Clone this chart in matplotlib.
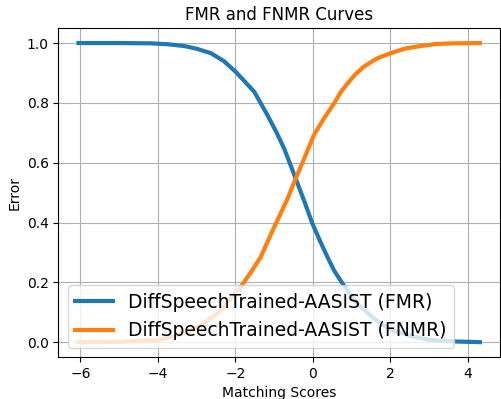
import numpy as np
import matplotlib
matplotlib.use("Agg")
import matplotlib.pyplot as plt

model = "DiffSpeechTrained-AASIST"

fmr_scores = [-6.05, -5.0, -4.18, -3.75, -3.32, -3.0, -2.63, -2.3, -1.99, -1.51,
              -1.17, -0.95, -0.74, -0.44, -0.2, -0.01, 0.2, 0.38, 0.55, 0.77,
              1.0, 1.24, 1.5, 1.75, 2.1, 2.61, 3.0, 3.47, 4.32]
fmr = [1.0, 1.0, 0.999, 0.996, 0.990, 0.981, 0.966, 0.94, 0.904, 0.837,
       0.759, 0.705, 0.648, 0.547, 0.465, 0.397, 0.335, 0.285, 0.24, 0.196,
       0.155, 0.118, 0.088, 0.0625, 0.038, 0.018, 0.008, 0.003, 0.0]

fnmr_scores = [-6.05, -5.0, -4.0, -3.7, -3.32, -2.9, -2.46, -2.15, -1.86, -1.6,
               -1.34, -1.1, -0.91, -0.65, -0.44, -0.2, 0.03, 0.3, 0.55, 0.72,
               0.9, 1.1, 1.32, 1.65, 2.01, 2.4, 2.79, 3.2, 3.64, 4.32]
fnmr = [0.0, 0.001, 0.007, 0.015, 0.029, 0.055, 0.096, 0.14, 0.185, 0.233,
        0.285, 0.355, 0.408, 0.48, 0.547, 0.62, 0.692, 0.75, 0.798, 0.835,
        0.865, 0.895, 0.921, 0.948, 0.966, 0.982, 0.990, 0.997, 0.999, 1.0]

fig = plt.figure(figsize=(5.02, 3.99), dpi=100)
ax = fig.add_axes([0.1165, 0.105, 0.8795, 0.8246])
ax.plot(fmr_scores, fmr, lw=3, label=f"{model} (FMR)")
ax.plot(fnmr_scores, fnmr, lw=3, label=f"{model} (FNMR)")
ax.set_xlabel("Matching Scores")
ax.set_ylabel("Error")
ax.set_title("FMR and FNMR Curves")
ax.grid(True)
ax.legend(loc="lower left", fontsize=13.5)
fig.savefig("out.png", dpi=100)
